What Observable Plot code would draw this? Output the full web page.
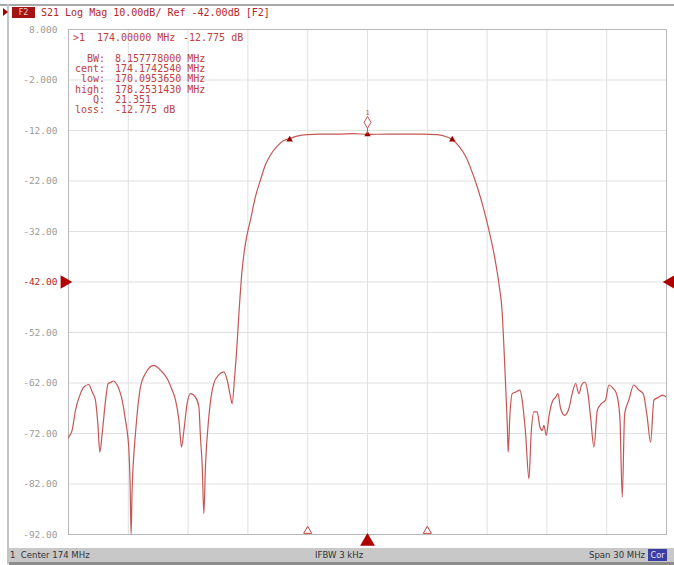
<!DOCTYPE html>
<html><head><meta charset="utf-8">
<script src="https://cdn.jsdelivr.net/npm/d3@7"></script>
<script src="https://cdn.jsdelivr.net/npm/@observablehq/plot@0.6"></script>
<style>
body{margin:0;background:#fff;}
#wrap{position:relative;width:674px;height:565px;overflow:hidden;background:#fff;}
.abs{position:absolute;white-space:pre;line-height:1;}
.mono{font-family:"DejaVu Sans Mono",monospace;}
</style></head><body><div id="wrap"></div>
<script>
// ---- data ----
const freqMHz = [159.00,159.02,159.18,159.35,159.60,159.77,160.02,160.19,160.35,160.47,160.57,160.69,160.86,160.99,161.11,161.24,161.44,161.69,161.86,162.03,162.09,162.14,162.19,162.24,162.36,162.48,162.61,162.86,163.28,163.62,163.95,164.20,164.37,164.54,164.67,164.79,164.95,165.12,165.37,165.54,165.62,165.71,165.79,165.87,166.04,166.29,166.54,166.79,166.96,167.13,167.21,167.33,167.42,167.55,167.71,167.88,168.13,168.38,168.63,168.88,169.14,169.47,169.80,170.10,170.47,170.98,171.64,172.48,173.32,174.00,175.00,175.82,176.66,177.50,178.00,178.25,178.58,178.92,179.17,179.50,179.84,180.09,180.34,180.59,180.76,180.84,180.93,181.01,181.06,181.14,181.26,181.43,181.65,181.76,181.93,182.10,182.21,182.35,182.51,182.65,182.77,182.85,182.97,183.10,183.27,183.44,183.55,183.69,183.89,184.10,184.27,184.44,184.61,184.74,184.91,185.06,185.19,185.36,185.53,185.73,185.94,186.11,186.33,186.49,186.66,186.78,186.90,187.11,187.36,187.61,187.83,188.03,188.20,188.37,188.62,188.79,189.00];
const s21dB = [-72.9,-72.7,-71.4,-67.4,-64.1,-62.8,-62.3,-63.8,-65.4,-70.0,-75.7,-72.0,-65.4,-62.1,-61.9,-61.6,-62.4,-65.4,-69.4,-75.3,-81.9,-92.0,-83.3,-78.6,-72.0,-66.7,-62.8,-60.1,-58.5,-59.5,-61.1,-63.4,-65.4,-69.4,-74.7,-71.4,-66.1,-64.1,-64.8,-66.7,-72.7,-78.6,-87.9,-78.6,-68.7,-62.1,-60.4,-59.8,-61.4,-64.8,-66.1,-61.0,-56.5,-48.2,-39.6,-34.3,-29.7,-25.1,-21.8,-18.8,-16.8,-15.1,-14.0,-13.6,-13.1,-12.8,-12.7,-12.7,-12.6,-12.78,-12.7,-12.7,-12.7,-12.8,-13.3,-13.8,-15.1,-17.1,-19.4,-23.1,-27.7,-31.7,-36.3,-42.3,-48.2,-54.5,-62.5,-70.0,-75.7,-68.7,-64.1,-63.8,-63.4,-65.4,-72.0,-81.0,-72.0,-67.7,-67.7,-70.7,-71.4,-70.4,-72.4,-68.7,-65.7,-64.8,-64.1,-67.1,-68.4,-67.1,-64.1,-62.1,-64.1,-62.4,-61.8,-64.1,-68.7,-74.7,-67.4,-66.1,-65.4,-62.4,-63.1,-64.1,-68.7,-84.6,-68.1,-65.4,-62.4,-63.4,-64.1,-68.7,-73.7,-65.4,-64.8,-64.4,-64.8];
const yTicks = [8,-2,-12,-22,-32,-42,-52,-62,-72,-82,-92];
const yTickLabels = ["8.000","-2.000","-12.00","-22.00","-32.00","-42.00","-52.00","-62.00","-72.00","-82.00","-92.00"];
const xGrid = [159,162,165,168,171,174,177,180,183,186,189];
const refLevel = -42;
const markerFreq = [170.0953650, 174.0, 178.2531430];
const markerDb = [-13.8, -12.775, -13.8];
const stimulusFreq = [171, 177];
const activeFreq = 174;
const headerText = "S21 Log Mag 10.00dB/ Ref -42.00dB [F2]";
const traceBadge = "F2";
const readoutTop = [">1", "174.00000 MHz", "-12.775 dB"];
const readoutLabels = ["BW:", "cent:", "low:", "high:", "Q:", "loss:"];
const readoutValues = ["8.157778000 MHz", "174.1742540 MHz", "170.0953650 MHz", "178.2531430 MHz", "21.351", "-12.775 dB"];
const footerLeft = "1  Center 174 MHz", footerMid = "IFBW 3 kHz", footerRight = "Span 30 MHz", footerBadge = "Cor";

// ---- chart ----
const trace = freqMHz.map((f, i) => ({f, db: s21dB[i]}));
const markers = markerFreq.map((f, i) => ({f, db: markerDb[i]}));
const RED = "#b42626", TRACE = "#c65656", TXT = "#c04040";

const chart = Plot.plot({
  width: 674, height: 565,
  marginLeft: 68, marginRight: 8, marginTop: 29, marginBottom: 31,
  x: {domain: [159, 189], axis: null, label: null},
  y: {domain: [-92, 8], axis: null, label: null},
  style: {fontFamily: "DejaVu Sans Mono, monospace", fontSize: "9.5px", background: "transparent", overflow: "visible"},
  marks: [
    Plot.gridX(xGrid, {stroke: "#e0e0e0", strokeOpacity: 1}),
    Plot.gridY(yTicks, {stroke: "#e0e0e0", strokeOpacity: 1}),
    Plot.frame({stroke: "#b8b8b8"}),
    Plot.axisY(yTicks.filter(t => t !== refLevel), {tickSize: 0, tickPadding: 11, color: "#9c9c9c", label: null, tickFormat: d => yTickLabels[yTicks.indexOf(d)]}),
    Plot.axisY([refLevel], {tickSize: 0, tickPadding: 11, color: RED, label: null, tickFormat: d => yTickLabels[yTicks.indexOf(d)]}),
    Plot.line(trace, {x: "f", y: "db", stroke: TRACE, strokeWidth: 1.2, curve: "monotone-x", clip: true}),
    Plot.dot(markers, {x: "f", y: "db", symbol: "triangle", r: 2.4, fill: "#9a0000"}),
    Plot.ruleX([activeFreq], {y1: -11.4, y2: -12.7, stroke: TRACE}),
    Plot.dot([activeFreq], {x: d => d, y: () => -10.4, symbol: "diamond", r: 3.6, stroke: TRACE, fill: "white", strokeWidth: 1}),
    Plot.text([activeFreq], {x: d => d, y: () => -8.5, text: () => "1", fill: TRACE, fontSize: 7}),
    Plot.dot(stimulusFreq, {x: d => d, y: () => -92, dy: -3.5, symbol: "triangle", r: 3, stroke: "#c04040", fill: "white", strokeWidth: 1}),
    Plot.dot([activeFreq], {x: d => d, y: () => -92, dy: 7, symbol: "triangle", r: 5.5, fill: "#b00000"}),
    Plot.dot([refLevel], {x: () => 159, y: d => d, dx: -4, symbol: "triangle", rotate: 90, r: 5, fill: "#b00000"}),
    Plot.dot([refLevel], {x: () => 189, y: d => d, dx: 4, symbol: "triangle", rotate: -90, r: 5, fill: "#b00000"})
  ]
});
chart.style.position = "absolute"; chart.style.left = "0px"; chart.style.top = "0px";
const wrap = document.getElementById("wrap");
wrap.appendChild(chart);

function add(txt, css, cls) {
  const d = document.createElement("div");
  d.className = "abs " + (cls || "");
  d.textContent = txt;
  Object.assign(d.style, css);
  wrap.appendChild(d);
  return d;
}
// outer frame lines
add("", {left: "0px", top: "4px", width: "674px", height: "2px", background: "#a9a9a9"});
add("", {left: "7px", top: "4px", width: "2px", height: "560px", background: "#c4c4c4"});
// header: active-trace arrow (drawn shape), badge, title
add("", {left: "3px", top: "8px", width: "0px", height: "0px", borderTop: "4px solid transparent", borderBottom: "4px solid transparent", borderLeft: "5px solid #a00000"});
add(traceBadge, {left: "12px", top: "7px", width: "23px", height: "11px", background: "#a31515", color: "#f4caca", fontSize: "8px", textAlign: "center", lineHeight: "11px", fontFamily: "DejaVu Sans"});
add(headerText, {left: "41px", top: "8px", fontSize: "10px", color: RED}, "mono");
// marker readout
add(readoutTop[0], {left: "73px", top: "33px", fontSize: "10px", color: TXT}, "mono");
add(readoutTop[1], {left: "97px", top: "33px", fontSize: "10px", color: TXT}, "mono");
add(readoutTop[2], {left: "183px", top: "33px", fontSize: "10px", color: TXT}, "mono");
readoutLabels.forEach((lab, i) => {
  const top = (54 + i * 10.2) + "px";
  add(lab, {left: "64px", top, width: "41px", textAlign: "right", fontSize: "10px", color: TXT}, "mono");
  add(readoutValues[i], {left: "115px", top, fontSize: "10px", color: TXT}, "mono");
});
// footer bar
add("", {left: "9px", top: "548px", width: "665px", height: "14px", background: "#c8c8c8"});
add("", {left: "9px", top: "562px", width: "665px", height: "3px", background: "#8c8c8c"});
const footCss = {top: "550px", fontSize: "9.5px", color: "#333", fontFamily: "DejaVu Sans Condensed, DejaVu Sans"};
add(footerLeft, Object.assign({left: "10px"}, footCss));
add(footerMid, Object.assign({left: "315px"}, footCss));
add(footerRight, Object.assign({left: "589px"}, footCss));
add(footerBadge, {left: "648px", top: "549px", width: "19px", height: "12px", background: "#3b3fa3", color: "#e8e8ff", fontSize: "9px", textAlign: "center", lineHeight: "12px", fontFamily: "DejaVu Sans Condensed, DejaVu Sans"});
</script></body></html>
